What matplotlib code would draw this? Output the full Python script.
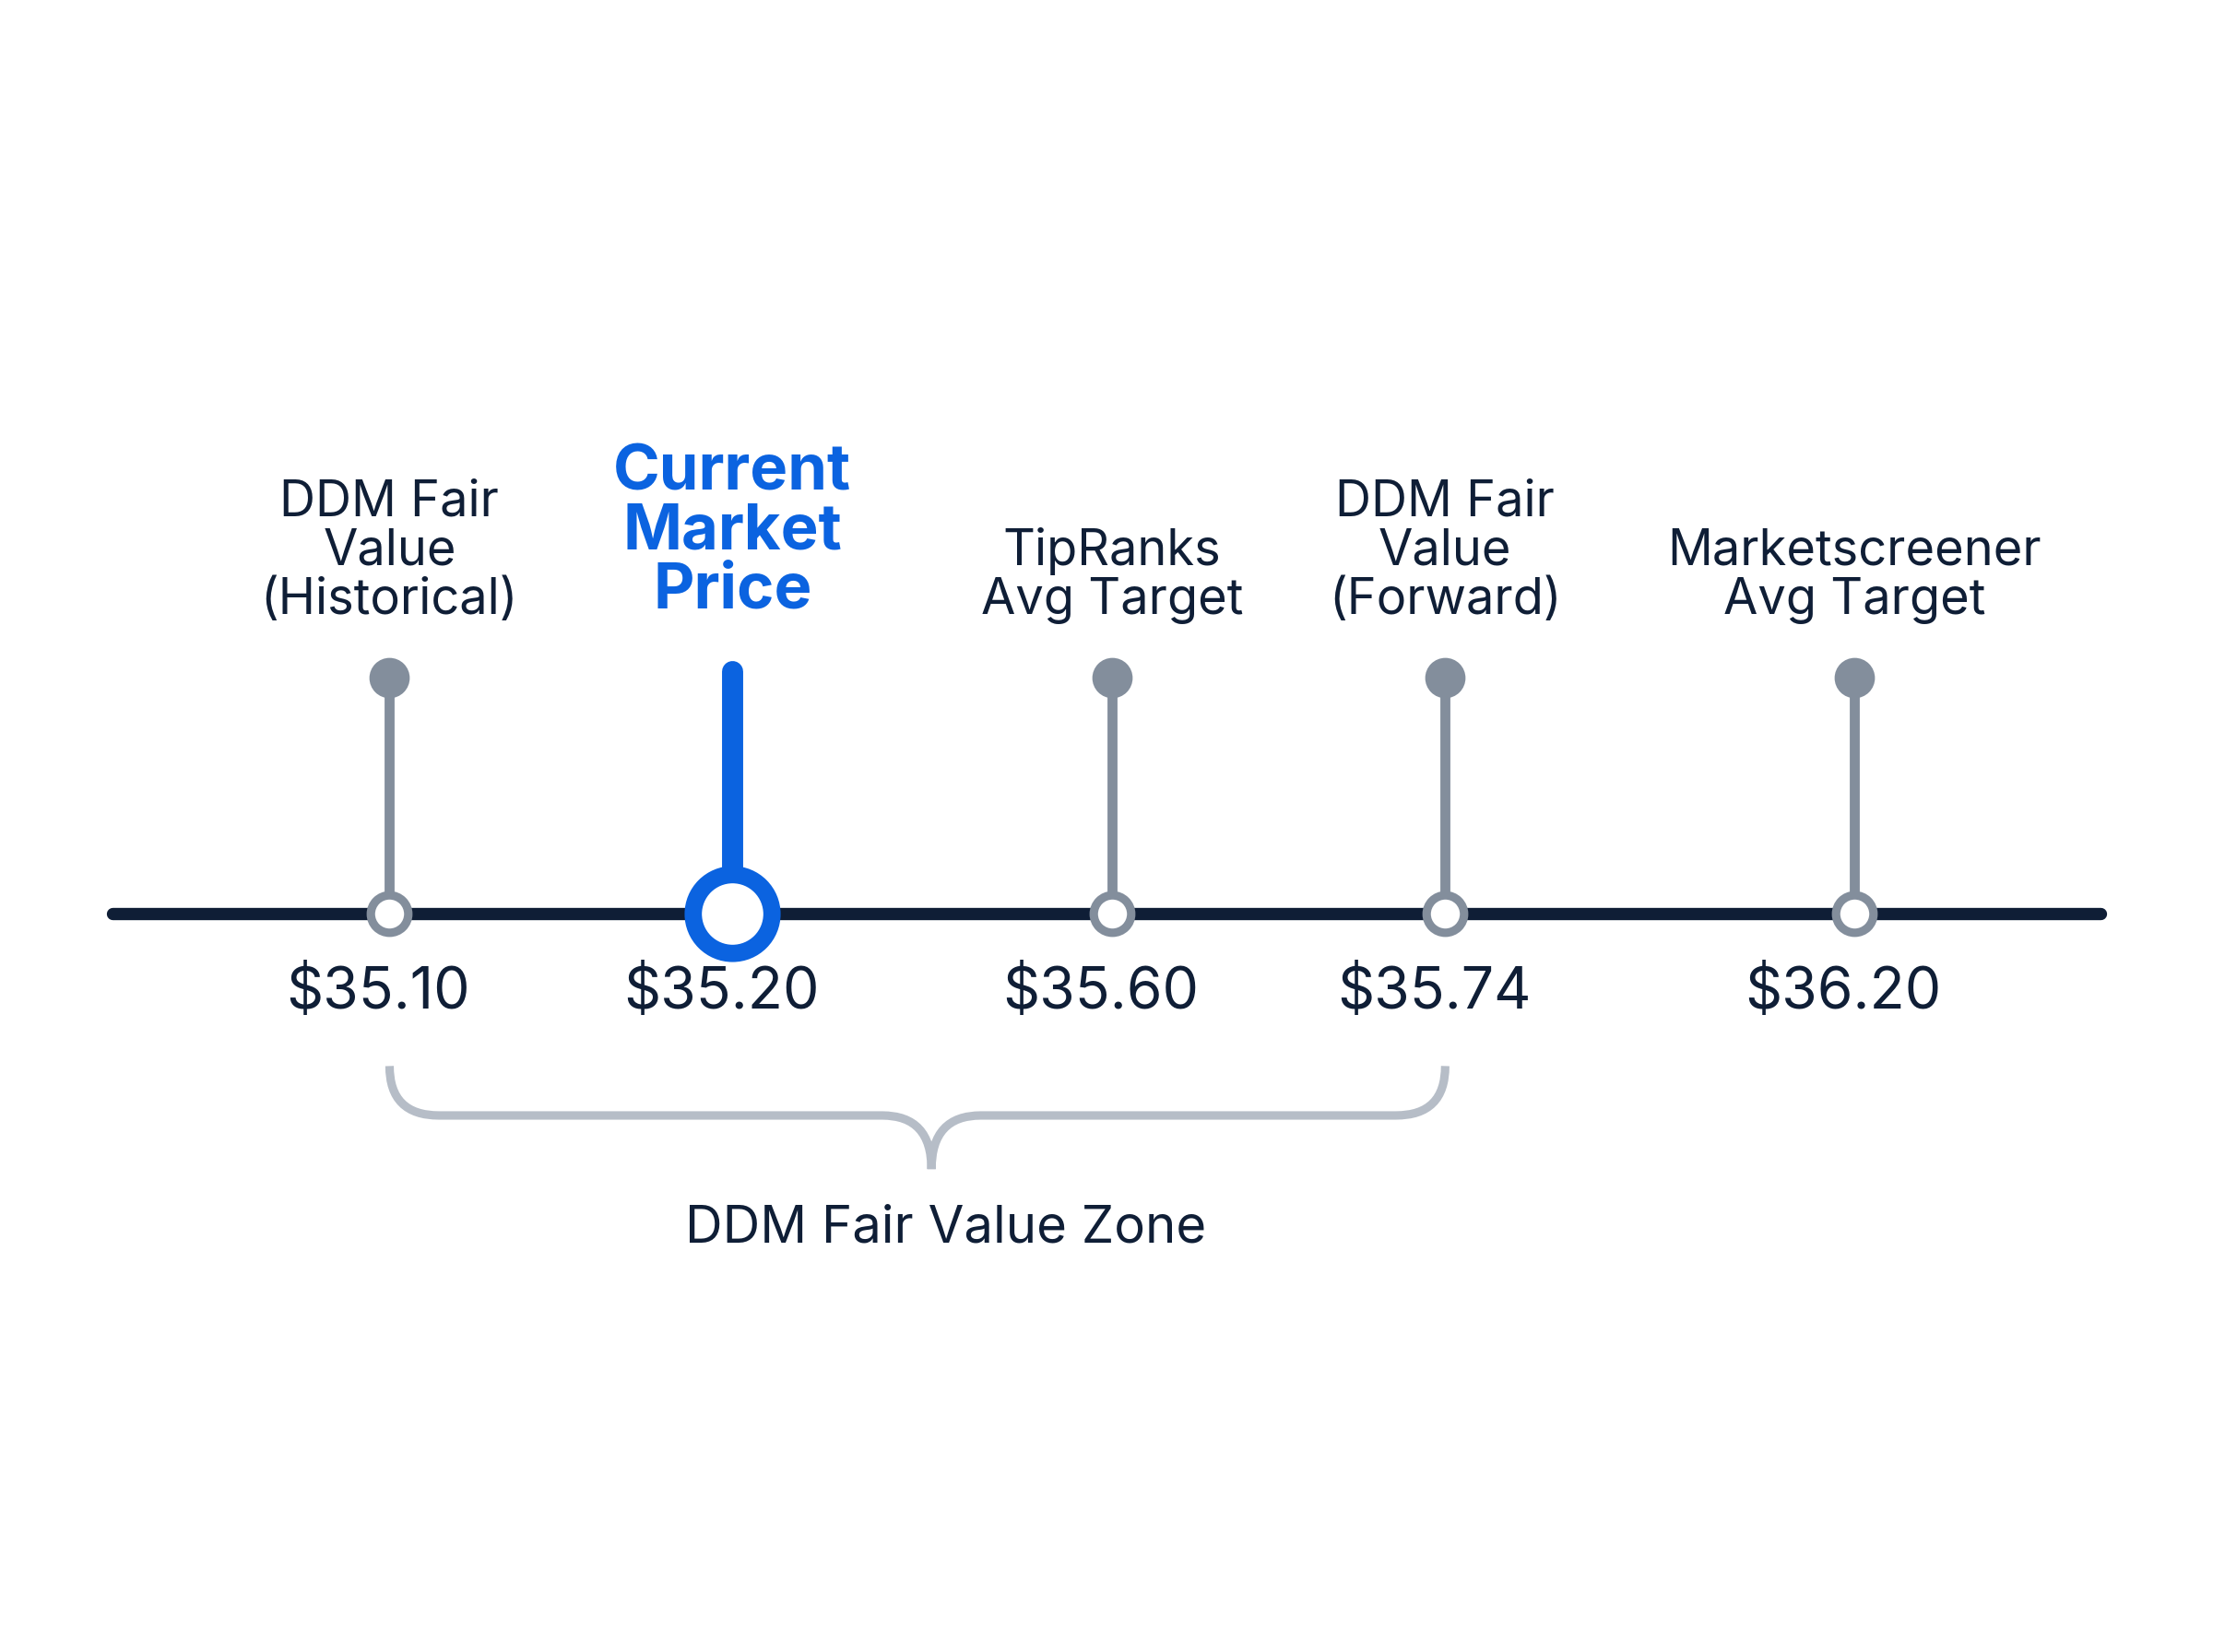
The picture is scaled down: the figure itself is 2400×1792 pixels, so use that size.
import numpy as np
import matplotlib.pyplot as plt
from matplotlib.path import Path
from matplotlib.patches import PathPatch

# ============ Data ============
labels = ["DDM Fair\nValue\n(Historical)", "Current\nMarket\nPrice", "TipRanks\nAvg Target",
          "DDM Fair\nValue\n(Forward)", "Marketscreener\nAvg Target"]
prices = [35.10, 35.20, 35.60, 35.74, 36.20]
highlight = 1
zone_label = "DDM Fair Value Zone"
zone_range = (0, 3)

plt.rcParams['font.family'] = ['Inter', 'DejaVu Sans']

NAVY = '#0f1e36'
GRAY = '#838e9c'
BLUE = '#0b63e0'
LIGHT = '#b6bdc7'

fig = plt.figure(figsize=(8, 1792 / 300))
ax = fig.add_axes([0, 0, 1, 1])
ax.set_xlim(0, 1568)
ax.set_ylim(1170, 0)
ax.axis('off')

x0, dx = 276, 260
xs = [x0 + i * dx for i in range(len(prices))]
xs = [276, 519, 788, 1024, 1314]  # visual spacing of the reference
base_y = 647

ax.plot([80, 1488], [base_y, base_y], color=NAVY, lw=3.2, solid_capstyle='round', zorder=1)

for i, (x, lab, p) in enumerate(zip(xs, labels, prices)):
    if i == highlight:
        ax.plot([x, x], [475, base_y], color=BLUE, lw=5.5, solid_capstyle='round', zorder=2)
        ax.scatter([x], [base_y], s=420, facecolor='white', edgecolor=BLUE, linewidth=4.5, zorder=3)
        ax.text(x, 440, lab, ha='center', va='bottom', fontsize=16.5, fontweight='bold',
                color=BLUE, linespacing=1.0)
    else:
        ax.plot([x, x], [480, base_y], color=GRAY, lw=2.6, zorder=2)
        ax.scatter([x], [480], s=90, color=GRAY, zorder=3)
        ax.scatter([x], [base_y], s=95, facecolor='white', edgecolor=GRAY, linewidth=2.2, zorder=3)
        ax.text(x, 442, lab, ha='center', va='bottom', fontsize=13, color=NAVY, linespacing=1.05)
    ax.text(x - 8, 703, f"${p:.2f}", ha='center', va='center', fontsize=15, color=NAVY)

# brace under the fair value zone
xa, xb = xs[zone_range[0]], xs[zone_range[1]]
xm = 660
verts = [(xa, 755), (xa, 790), (xa + 35, 790), (xa + 35, 790),
         (xm - 35, 790), (xm, 790), (xm, 828),
         (xm, 790), (xm + 35, 790), (xm + 35, 790),
         (xb - 35, 790), (xb, 790), (xb, 755)]
codes = [Path.MOVETO, Path.CURVE3, Path.CURVE3, Path.LINETO,
         Path.LINETO, Path.CURVE3, Path.CURVE3,
         Path.CURVE3, Path.CURVE3, Path.LINETO,
         Path.LINETO, Path.CURVE3, Path.CURVE3]
ax.add_patch(PathPatch(Path(verts, codes), fill=False, edgecolor=LIGHT, lw=2.2))
ax.text(670, 870, zone_label, ha='center', va='center', fontsize=13.5, color=NAVY)

fig.savefig("out.png", dpi=300, facecolor='white')
